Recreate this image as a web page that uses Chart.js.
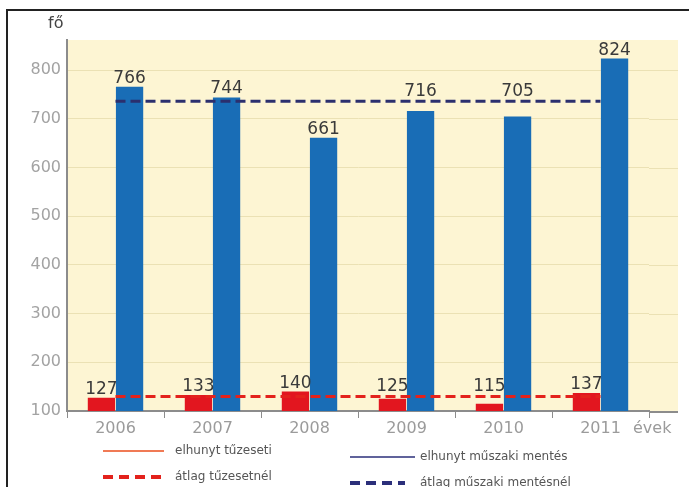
<!DOCTYPE html>
<html>
<head>
<meta charset="utf-8">
<script src="https://cdn.jsdelivr.net/npm/chart.js@4.4.0/dist/chart.umd.min.js"></script>
<style>
  body { margin: 0; background: #fff; }
</style>
</head>
<body>
<canvas id="abra" width="689" height="487"></canvas>
<script>
// adatok
var evek = ['2006', '2007', '2008', '2009', '2010', '2011'];
var elhunytTuzeseti = [127, 133, 140, 125, 115, 137];
var elhunytMuszaki = [766, 744, 661, 716, 705, 824];
var atlagTuzeseti = 130;
var atlagMuszaki = 736;
var yTickek = [100, 200, 300, 400, 500, 600, 700, 800];

var sarga = '#fdf5d3';
var racsSzin = '#ebe1b4';
var tengelySzin = '#8c8c8c';
var extra = 29; // sarga sav jobbra a 2011 utan

var rajz = {
    id: 'rajz',
    beforeDraw: function (chart) {
        var ctx = chart.ctx, a = chart.chartArea;
        ctx.save();
        ctx.fillStyle = '#fff';
        ctx.fillRect(0, 0, chart.width, chart.height);
        ctx.fillStyle = sarga;
        ctx.fillRect(a.left, a.top, a.right + extra - a.left, a.bottom - a.top);
        // keret
        ctx.strokeStyle = '#222';
        ctx.lineWidth = 2;
        ctx.beginPath();
        ctx.moveTo(7, chart.height);
        ctx.lineTo(7, 10);
        ctx.lineTo(chart.width, 10);
        ctx.stroke();
        ctx.restore();
    },
    beforeDatasetsDraw: function (chart) {
        var ctx = chart.ctx, a = chart.chartArea, y = chart.scales.y;
        ctx.save();
        ctx.lineWidth = 1;
        ctx.strokeStyle = racsSzin;
        y.ticks.forEach(function (t) {
            if (t.value === y.min) return;
            var py = Math.round(y.getPixelForValue(t.value)) + 0.5;
            ctx.beginPath();
            ctx.moveTo(a.right, py);
            ctx.lineTo(a.right + extra, py);
            ctx.stroke();
        });
        ctx.strokeStyle = tengelySzin;
        ctx.lineWidth = 2;
        ctx.beginPath();
        ctx.moveTo(a.right, a.bottom + 1);
        ctx.lineTo(a.right + extra, a.bottom + 1);
        ctx.stroke();
        ctx.restore();
    },
    afterDraw: function (chart) {
        var ctx = chart.ctx, a = chart.chartArea, y = chart.scales.y;
        ctx.save();
        // ertekek az oszlopok felett, az atlagvonal fole tolva ha utkozne
        ctx.font = '17px "DejaVu Sans"';
        ctx.fillStyle = '#3a3a3a';
        ctx.textAlign = 'center';
        ctx.textBaseline = 'alphabetic';
        var atlagok = [atlagTuzeseti, atlagMuszaki];
        [0, 1].forEach(function (i) {
            var meta = chart.getDatasetMeta(i);
            var ertekek = chart.data.datasets[i].data;
            var vonalY = y.getPixelForValue(atlagok[i]);
            meta.data.forEach(function (bar, j) {
                var ty = bar.y - 4;
                if (ty - 13 < vonalY + 2 && ty > vonalY - 2) ty = vonalY - 5;
                ctx.fillText(String(ertekek[j]), bar.x, ty);
            });
        });
        // tengelyfeliratok
        ctx.font = '16px "DejaVu Sans"';
        ctx.fillStyle = '#444';
        ctx.textAlign = 'left';
        ctx.fillText('fő', 48, 28);
        ctx.fillStyle = '#9b9b9b';
        ctx.fillText('évek', a.right - 16, a.bottom + 22);

        // jelmagyarazat
        ctx.font = '12px "DejaVu Sans"';
        ctx.textBaseline = 'middle';
        ctx.fillStyle = '#555';
        function vonal(x1, x2, yy, szin, vastag, dash) {
            ctx.beginPath();
            ctx.setLineDash(dash);
            ctx.strokeStyle = szin;
            ctx.lineWidth = vastag;
            ctx.moveTo(x1, yy);
            ctx.lineTo(x2, yy);
            ctx.stroke();
            ctx.setLineDash([]);
        }
        vonal(103, 164, 451, '#f07a55', 2, []);
        ctx.fillText('elhunyt tűzeseti', 175, 451);
        vonal(103, 164, 477, '#e3221c', 4, [10, 6]);
        ctx.fillText('átlag tűzesetnél', 175, 477);
        vonal(350, 415, 457, '#2b2f7a', 1.5, []);
        ctx.fillText('elhunyt műszaki mentés', 420, 457);
        vonal(350, 405, 483, '#2b2f7a', 4, [10, 6]);
        ctx.fillText('átlag műszaki mentésnél', 420, 483);
        ctx.restore();
    }
};

new Chart(document.getElementById('abra'), {
    type: 'bar',
    data: {
        labels: evek,
        datasets: [{
            label: 'elhunyt tűzeseti',
            data: elhunytTuzeseti,
            backgroundColor: '#e2161f',
            categoryPercentage: 0.58,
            barPercentage: 0.97,
            order: 2
        }, {
            label: 'elhunyt műszaki mentés',
            data: elhunytMuszaki,
            backgroundColor: '#196db6',
            categoryPercentage: 0.58,
            barPercentage: 0.97,
            order: 2
        }, {
            type: 'line',
            label: 'átlag tűzesetnél',
            data: evek.map(function () { return atlagTuzeseti; }),
            borderColor: '#e3221c',
            borderWidth: 3,
            borderDash: [10, 5],
            pointRadius: 0,
            fill: false,
            order: 0
        }, {
            type: 'line',
            label: 'átlag műszaki mentésnél',
            data: evek.map(function () { return atlagMuszaki; }),
            borderColor: '#2b2f6e',
            borderWidth: 3,
            borderDash: [10, 5],
            pointRadius: 0,
            fill: false,
            order: 0
        }]
    },
    options: {
        responsive: false,
        animation: false,
        layout: { padding: { top: 40, right: 40, left: 0, bottom: 0 } },
        plugins: {
            legend: { display: false },
            tooltip: { enabled: false }
        },
        scales: {
            x: {
                grid: {
                    drawOnChartArea: false,
                    drawTicks: true,
                    tickLength: 7,
                    color: tengelySzin,
                    offset: true
                },
                border: { color: tengelySzin, width: 2 },
                ticks: {
                    font: { family: 'DejaVu Sans', size: 16 },
                    color: '#9b9b9b',
                    padding: 1
                },
                afterFit: function (scale) { scale.height = 76; }
            },
            y: {
                min: 100,
                max: 862,
                afterBuildTicks: function (scale) {
                    scale.ticks = yTickek.map(function (v) { return { value: v }; });
                },
                grid: { color: racsSzin, drawTicks: false },
                border: { color: tengelySzin, width: 2 },
                ticks: {
                    font: { family: 'DejaVu Sans', size: 16 },
                    color: '#a3a3a3',
                    padding: 6
                },
                afterFit: function (scale) { scale.width = 67; }
            }
        }
    },
    plugins: [rajz]
});
</script>
</body>
</html>
